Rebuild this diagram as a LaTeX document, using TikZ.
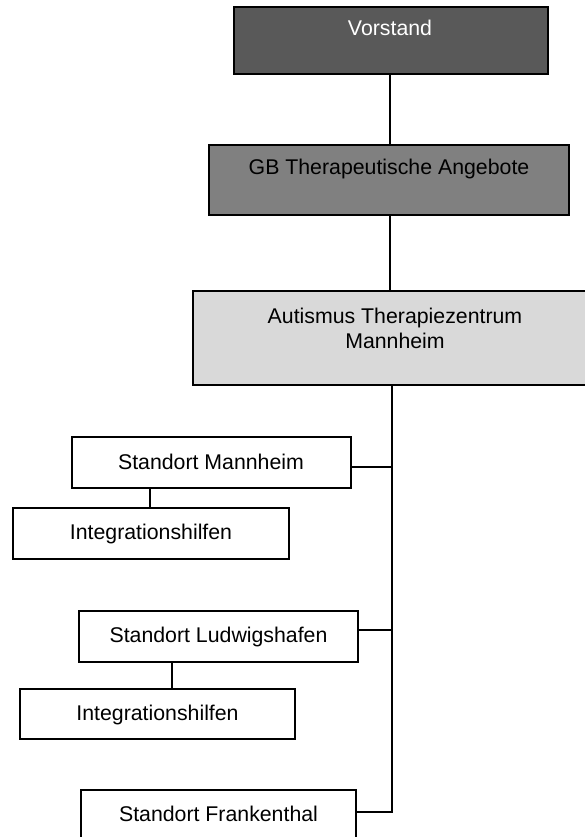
\documentclass[tikz,border=0pt]{standalone}
\usepackage{fontspec}
\setmainfont{Liberation Sans}
\definecolor{vdark}{HTML}{595959}
\definecolor{gbgray}{HTML}{808080}
\definecolor{atzgray}{HTML}{D9D9D9}
\begin{document}
\begin{tikzpicture}[x=1pt,y=-1pt,
  box/.style={draw=black,line width=1.5pt,inner sep=0pt,rectangle},
  txt/.style={anchor=base,font=\fontsize{21.3}{25}\selectfont,inner sep=0pt},
  conn/.style={line width=1.5pt},
  trunkline/.style={line width=2pt}]
\clip (0,0) rectangle (585,837);
\useasboundingbox (0,0) rectangle (585,837);
% boxes
\node[box,fill=vdark,line width=2pt,minimum width=314pt,minimum height=67pt] (v) at (391,40.5) {};
\node[box,fill=gbgray,minimum width=360pt,minimum height=70pt] (gb) at (389,180) {};
\node[box,fill=atzgray,minimum width=407pt,minimum height=94pt] (atz) at (396.5,338) {};
\node[box,fill=white,minimum width=279pt,minimum height=51pt] (sm) at (211.5,462.5) {};
\node[box,fill=white,minimum width=276pt,minimum height=51pt] (i1) at (151,533.5) {};
\node[box,fill=white,minimum width=279pt,minimum height=51pt] (sl) at (218.5,636.5) {};
\node[box,fill=white,minimum width=275pt,minimum height=50pt] (i2) at (157.5,714) {};
\node[box,fill=white,minimum width=275pt,minimum height=60pt] (sf) at (218.5,820) {};
% texts
\node[txt,text=white] (tv) at (390,36) {Vorstand};
\node[txt] (tgb) at (389,175) {GB Therapeutische Angebote};
\node[txt] (tatz1) at (395,323) {Autismus Therapiezentrum};
\node[txt] (tatz2) at (395,348) {Mannheim};
\node[txt] (tsm) at (211,469) {Standort Mannheim};
\node[txt] (ti1) at (151,539) {Integrationshilfen};
\node[txt] (tsl) at (218.5,642) {Standort Ludwigshafen};
\node[txt] (ti2) at (157.5,720) {Integrationshilfen};
\node[txt] (tsf) at (218.5,821) {Standort Frankenthal};
% coordinates
\coordinate (top) at (390,0);
\coordinate (tb) at (391.5,812);
\coordinate (b1) at (391.5,467);
\coordinate (b2) at (391.5,630);
\coordinate (c1) at (150,0);
\coordinate (c2) at (172,0);
% connectors
\draw[conn] (v.south -| top) -- (gb.north -| top);
\draw[conn] (gb.south -| top) -- (atz.north -| top);
\draw[trunkline] (atz.south -| tb) -- (tb) -- (tb -| sf.east);
\draw[conn] (b1 -| sm.east) -- (b1);
\draw[conn] (b2 -| sl.east) -- (b2);
\draw[conn] (sm.south -| c1) -- (i1.north -| c1);
\draw[conn] (sl.south -| c2) -- (i2.north -| c2);
\end{tikzpicture}
\end{document}
